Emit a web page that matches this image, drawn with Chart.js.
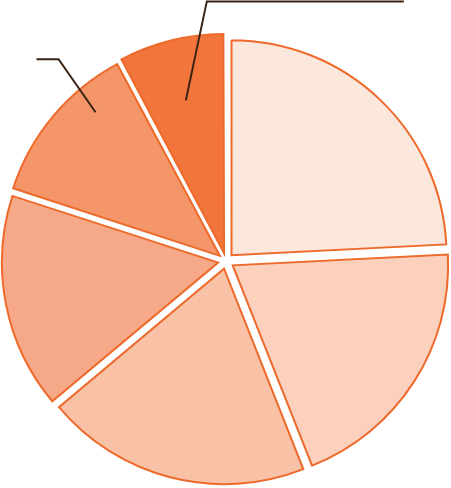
<!DOCTYPE html>
<html>
<head>
<meta charset="utf-8">
<script src="https://cdn.jsdelivr.net/npm/chart.js@4"></script>
<style>
  html, body { margin: 0; padding: 0; background: #fff; }
  #wrap { width: 451px; height: 488px; }
</style>
</head>
<body>
<div id="wrap"><canvas id="pie"></canvas></div>
<script>
// datos del gráfico
const categorias = ["A", "B", "C", "D", "E", "F"];
const valores = [24.2, 19.8, 19.9, 16.1, 12.2, 7.8];
const colores = ["#FCE7DC", "#FBD1BE", "#F9C1A6", "#F6A988", "#F4966A", "#F2763B"];

// líneas guía (índice de la porción, posición del ancla y del codo)
const guias = [
    { index: 5, angFrac: 0.5, radFrac: 0.77, codo: [21, -99], largo: 197 },
    { index: 4, angFrac: 0.7, radFrac: 0.92, codo: [-37, -53], largo: -22 }
];

const guidePlugin = {
    id: "guias",
    afterDatasetsDraw(chart) {
        const ctx = chart.ctx;
        const meta = chart.getDatasetMeta(0);
        ctx.save();
        ctx.strokeStyle = "#3B2314";
        ctx.lineWidth = 2;
        guias.forEach(g => {
            const arc = meta.data[g.index];
            const p = arc.getProps(["x", "y", "startAngle", "endAngle", "outerRadius"], true);
            const ang = p.startAngle + (p.endAngle - p.startAngle) * g.angFrac;
            const r = p.outerRadius * g.radFrac;
            const x0 = p.x + Math.cos(ang) * r;
            const y0 = p.y + Math.sin(ang) * r;
            const x1 = x0 + g.codo[0];
            const y1 = y0 + g.codo[1];
            ctx.beginPath();
            ctx.moveTo(x0, y0);
            ctx.lineTo(x1, y1);
            ctx.lineTo(x1 + g.largo, y1);
            ctx.stroke();
        });
        ctx.restore();
    }
};

// Chart.js v4 desplaza cada porción offset/4 px
new Chart(document.getElementById("pie"), {
    type: "pie",
    data: {
        labels: categorias,
        datasets: [{
            data: valores,
            backgroundColor: colores,
            borderColor: "#EE6A2B",
            borderWidth: 2,
            borderJoinStyle: "miter",
            offset: 32,
            hoverOffset: 32
        }]
    },
    options: {
        responsive: true,
        maintainAspectRatio: false,
        animation: false,
        radius: 215,
        layout: { padding: { top: 34, bottom: 0, left: 1, right: 0 } },
        plugins: {
            legend: { display: false },
            tooltip: { enabled: false }
        }
    },
    plugins: [guidePlugin]
});
</script>
</body>
</html>
